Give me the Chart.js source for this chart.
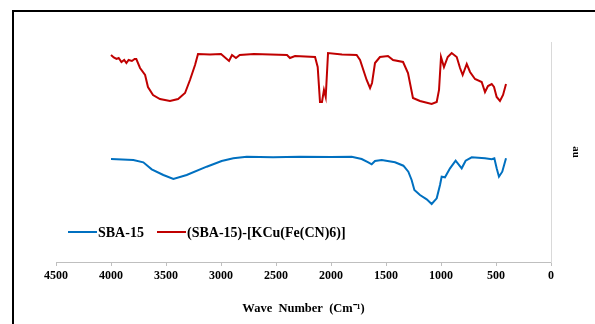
<!DOCTYPE html>
<html>
<head>
<meta charset="utf-8">
<script src="https://cdn.jsdelivr.net/npm/chart.js@4.4.1/dist/chart.umd.min.js"></script>
<style>
  html, body { margin: 0; padding: 0; background: #fff; overflow: hidden; }
  #wrap { position: relative; width: 595px; height: 324px; }
  #frame { position: absolute; left: 12px; top: 10px; width: 700px; height: 400px;
           border-top: 2px solid #000; border-left: 2px solid #000; pointer-events: none; }
  canvas { position: absolute; left: 0; top: 0; }
</style>
</head>
<body>
<div id="wrap">
  <canvas id="ir" width="595" height="324"></canvas>
  <div id="frame"></div>
</div>
<script>
// FT-IR spectra, wave number (cm-1) vs. absorbance-like units
const sbaWave = [4000, 3797, 3706, 3630, 3524, 3433, 3312, 3130, 2994, 2888, 2766, 2527, 2282, 2000,
  1812, 1721, 1661, 1630, 1600, 1539, 1418, 1342, 1297, 1267, 1242, 1191, 1130, 1085, 1039, 1009,
  994, 964, 918, 867, 812, 776, 721, 600, 539, 515, 494, 473, 443, 409];
const sbaValues = [103, 102, 99.7, 92.7, 87, 83, 87, 95.3, 101, 103.7, 105.3, 104.7, 105.3, 105,
  105.3, 103, 99.7, 97.7, 101, 102, 99.7, 96.3, 90.3, 82, 72, 67, 62.7, 58, 63.7, 77,
  85.3, 84.7, 93.7, 101.3, 93.7, 101.3, 104.7, 103.7, 102.7, 103.7, 93.7, 85.3, 90.3, 103.7];

const kcuWave = [4000, 3975, 3950, 3930, 3905, 3880, 3860, 3840, 3810, 3785, 3770, 3736, 3690, 3664,
  3618, 3555, 3464, 3390, 3327, 3282, 3236, 3209, 3100, 3000, 2927, 2900, 2864, 2830, 2700, 2550,
  2400, 2373, 2327, 2145, 2121, 2100, 2082, 2064, 2048, 2027, 1900, 1767, 1736, 1676, 1645, 1627,
  1600, 1555, 1482, 1436, 1345, 1300, 1255, 1191, 1085, 1039, 1018, 1000, 973, 939, 903, 857,
  827, 803, 766, 736, 691, 630, 600, 573, 539, 518, 494, 464, 436, 409];
const kcuValues = [207, 204.5, 203, 204, 200, 202, 199, 202, 201, 203, 203, 194, 187, 175,
  167, 163, 161, 163, 169, 182, 197, 208, 207.5, 208, 201, 207, 204, 207, 208, 207.5,
  207, 204, 206, 205, 195, 160, 160, 172, 165, 209, 207.5, 207, 202, 182, 174, 179,
  199, 205, 206, 202, 200, 189, 164, 161, 158, 160, 172, 205, 195, 205, 209, 205,
  194, 187, 198, 190, 183, 180, 170, 176, 178, 175, 165, 161, 167, 178];

const seriesNames = ['SBA-15', '(SBA-15)-[KCu(Fe(CN)6)]'];
const xTickStep = 500;

const serif = 'Liberation Serif, Times New Roman, serif';

function toPoints(xs, ys) {
  return xs.map((x, i) => ({ x: x, y: ys[i] }));
}

// legend drawn inside the plot, just above the x axis
const innerLegend = {
  id: 'innerLegend',
  afterDraw(chart) {
    const ctx = chart.ctx;
    const items = [{ x: 68, w: 29 }, { x: 157, w: 29 }];
    const y = 232;
    ctx.save();
    ctx.font = 'bold 14px ' + serif;
    ctx.textBaseline = 'middle';
    chart.data.datasets.forEach((ds, i) => {
      const it = items[i];
      ctx.strokeStyle = ds.borderColor;
      ctx.lineWidth = 2;
      ctx.beginPath();
      ctx.moveTo(it.x, y);
      ctx.lineTo(it.x + it.w, y);
      ctx.stroke();
      ctx.fillStyle = '#000';
      ctx.fillText(ds.label, it.x + it.w + 1, y + 1);
    });
    ctx.restore();
  }
};

new Chart(document.getElementById('ir'), {
  type: 'line',
  data: {
    datasets: [
      {
        label: seriesNames[0],
        data: toPoints(sbaWave, sbaValues),
        borderColor: '#0070C0',
        borderWidth: 2,
        pointRadius: 0,
        tension: 0
      },
      {
        label: seriesNames[1],
        data: toPoints(kcuWave, kcuValues),
        borderColor: '#C00000',
        borderWidth: 2,
        pointRadius: 0,
        tension: 0
      }
    ]
  },
  options: {
    responsive: false,
    animation: false,
    layout: { padding: { left: 56, top: 42, right: 0, bottom: 0 } },
    plugins: {
      legend: { display: false },
      tooltip: { enabled: false }
    },
    scales: {
      x: {
        type: 'linear',
        reverse: true,
        min: 0,
        max: 4500,
        afterFit(scale) { scale.height = 62; },
        ticks: {
          stepSize: xTickStep,
          color: '#000',
          padding: 3,
          maxRotation: 0,
          callback: (v) => String(v),
          font: { family: serif, size: 12, weight: 'bold' }
        },
        grid: { drawOnChartArea: false, drawTicks: true, tickLength: 4, color: '#bfbfbf' },
        border: { color: '#bfbfbf', width: 1 },
        title: {
          display: true,
          text: 'Wave  Number  (Cm\u207B\u00B9)',
          color: '#000',
          padding: { top: 0, bottom: 8 },
          font: { family: serif, size: 12.5, weight: 'bold' }
        }
      },
      y: {
        position: 'right',
        min: 0,
        max: 220,
        afterFit(scale) { scale.width = 44; },
        ticks: { display: false },
        grid: { drawOnChartArea: false, drawTicks: false },
        border: { color: '#d9d9d9', width: 1 },
        title: {
          display: true,
          text: 'au',
          color: '#000',
          padding: { top: 13, bottom: 0 },
          font: { family: serif, size: 11, weight: 'bold' }
        }
      }
    }
  },
  plugins: [innerLegend]
});
</script>
</body>
</html>
